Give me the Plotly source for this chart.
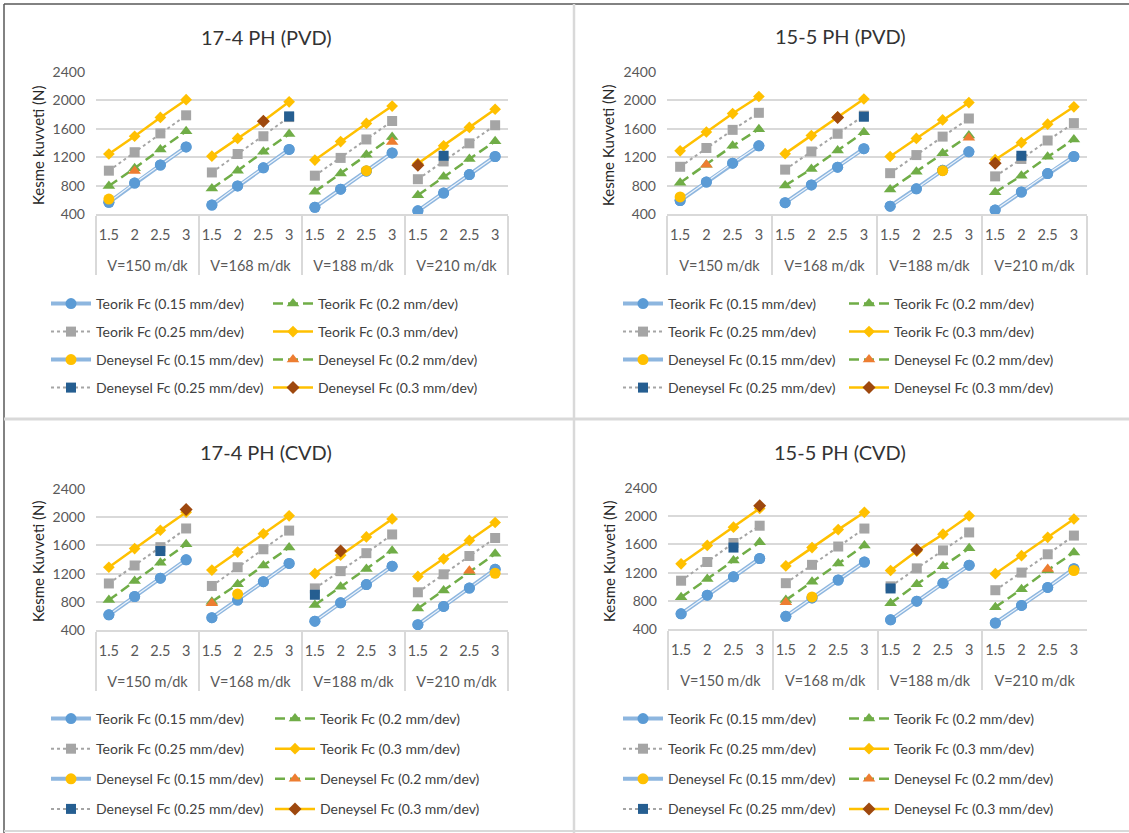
import plotly.graph_objects as go

# Category axis: cutting speed groups and depth of cut
speeds = ["V=150 m/dk", "V=168 m/dk", "V=188 m/dk", "V=210 m/dk"]
depths = ["1.5", "2", "2.5", "3"]

# 17-4 PH (PVD) cutting forces, N
pvd174_t015 = [565, 835, 1090, 1345, 525, 795, 1050, 1310, 495, 750, 1005, 1260, 445, 695, 955, 1210]
pvd174_t020 = [795, 1045, 1310, 1565, 760, 1010, 1275, 1525, 715, 970, 1235, 1485, 665, 925, 1175, 1425]
pvd174_t025 = [1010, 1270, 1535, 1790, 985, 1245, 1495, 1765, 940, 1190, 1450, 1710, 890, 1140, 1395, 1650]
pvd174_t030 = [1245, 1495, 1760, 2010, 1215, 1465, 1710, 1980, 1160, 1420, 1675, 1920, 1110, 1360, 1620, 1875]
pvd174_d015 = [610, None, None, None, None, None, None, None, None, None, 1010, None, None, None, None, None]
pvd174_d020 = [None, 1005, None, None, None, None, None, None, None, None, None, 1415, None, None, None, None]
pvd174_d025 = [None, None, None, None, None, None, None, 1775, None, None, None, None, None, 1220, None, None]
pvd174_d030 = [None, None, None, None, None, None, 1705, None, None, None, None, None, 1085, None, None, None]

# 15-5 PH (PVD)
pvd155_t015 = [590, 850, 1115, 1360, 560, 810, 1060, 1320, 510, 755, 1015, 1275, 455, 710, 970, 1210]
pvd155_t020 = [840, 1095, 1360, 1595, 800, 1035, 1295, 1550, 745, 995, 1255, 1505, 705, 940, 1205, 1450]
pvd155_t025 = [1065, 1330, 1585, 1825, 1025, 1280, 1530, 1785, 975, 1230, 1490, 1745, 930, 1175, 1435, 1680]
pvd155_t030 = [1290, 1555, 1815, 2055, 1250, 1505, 1765, 2020, 1210, 1465, 1725, 1970, 1165, 1405, 1665, 1910]
pvd155_d015 = [640, None, None, None, None, None, None, None, None, None, 1010, None, None, None, None, None]
pvd155_d020 = [None, 1095, None, None, None, None, None, None, None, None, None, 1475, None, None, None, None]
pvd155_d025 = [None, None, None, None, None, None, None, 1770, None, None, None, None, None, 1220, None, None]
pvd155_d030 = [None, None, None, None, None, None, 1760, None, None, None, None, None, 1115, None, None, None]

# 17-4 PH (CVD)
cvd174_t015 = [615, 875, 1135, 1395, 575, 825, 1085, 1345, 525, 785, 1045, 1305, 475, 735, 995, 1260]
cvd174_t020 = [825, 1095, 1355, 1615, 800, 1050, 1315, 1570, 755, 1015, 1265, 1525, 705, 960, 1220, 1480]
cvd174_t025 = [1060, 1315, 1575, 1840, 1025, 1290, 1545, 1810, 990, 1235, 1490, 1755, 935, 1190, 1450, 1705]
cvd174_t030 = [1290, 1555, 1815, 2070, 1250, 1505, 1765, 2020, 1200, 1460, 1720, 1975, 1160, 1410, 1670, 1925]
cvd174_d015 = [None, None, None, None, None, 910, None, None, None, None, None, None, None, None, None, 1205]
cvd174_d020 = [None, None, None, None, 780, None, None, None, None, None, None, None, None, None, 1240, None]
cvd174_d025 = [None, None, 1520, None, None, None, None, None, 900, None, None, None, None, None, None, None]
cvd174_d030 = [None, None, None, 2110, None, None, None, None, None, 1520, None, None, None, None, None, None]

# 15-5 PH (CVD)
cvd155_t015 = [615, 880, 1140, 1400, 580, 840, 1095, 1350, 530, 795, 1050, 1305, 485, 735, 990, 1255]
cvd155_t020 = [850, 1110, 1370, 1630, 810, 1070, 1330, 1585, 765, 1035, 1290, 1545, 710, 965, 1235, 1485]
cvd155_t025 = [1085, 1350, 1620, 1865, 1050, 1310, 1570, 1825, 1005, 1260, 1515, 1770, 950, 1200, 1460, 1725]
cvd155_t030 = [1325, 1585, 1845, 2110, 1295, 1555, 1810, 2055, 1230, 1505, 1745, 2005, 1185, 1440, 1700, 1960]
cvd155_d015 = [None, None, None, None, None, 855, None, None, None, None, None, None, None, None, None, 1230]
cvd155_d020 = [None, None, None, None, 780, None, None, None, None, None, None, None, None, None, 1250, None]
cvd155_d025 = [None, None, 1555, None, None, None, None, None, 975, None, None, None, None, None, None, None]
cvd155_d030 = [None, None, None, 2150, None, None, None, None, None, 1525, None, None, None, None, None, None]

series_names = [
    "Teorik Fc (0.15 mm/dev)", "Teorik Fc (0.2 mm/dev)",
    "Teorik Fc (0.25 mm/dev)", "Teorik Fc (0.3 mm/dev)",
    "Deneysel Fc (0.15 mm/dev)", "Deneysel Fc (0.2 mm/dev)",
    "Deneysel Fc (0.25 mm/dev)", "Deneysel Fc (0.3 mm/dev)",
]

W, H = 1129, 833
FONT = "Lato"
TXT = "#404040"
TICK = "#595959"
GRID = "#D9D9D9"

# a blank second line under each depth label leaves room above the speed row
depth_labels = [d + "<br>\u00a0" for d in depths]
xcat = [[s for s in speeds for _ in depths], [d for _ in speeds for d in depth_labels]]
n_cat = len(xcat[0])

# line style per feed rate, marker style per series
line_styles = [
    dict(color="#8DB6DF", width=4),
    dict(color="#70AD47", width=2.5, dash="10px,5px"),
    dict(color="#A5A5A5", width=2, dash="dot"),
    dict(color="#FFC000", width=2.5),
]
markers = [
    dict(symbol="circle", size=11, color="#5B9BD5"),
    dict(symbol="triangle-up", size=11, color="#70AD47"),
    dict(symbol="square", size=10, color="#A5A5A5"),
    dict(symbol="diamond", size=9, color="#FFC000"),
    dict(symbol="circle", size=11, color="#FFC000"),
    dict(symbol="triangle-up", size=11, color="#ED7D31"),
    dict(symbol="square", size=10, color="#255E91"),
    dict(symbol="diamond", size=10, color="#9E480E"),
]

panels = [
    dict(title="17-4 PH (PVD)", ytitle="Kesme kuvveti (N)",
         series=[pvd174_t015, pvd174_t020, pvd174_t025, pvd174_t030,
                 pvd174_d015, pvd174_d020, pvd174_d025, pvd174_d030],
         xd=(96, 508), yd=(72, 214), ytx=38, ytp=145, tx=266, ty=37,
         lgx=(46, 268), lgy=288, gap=6.8),
    dict(title="15-5 PH (PVD)", ytitle="Kesme Kuvveti (N)",
         series=[pvd155_t015, pvd155_t020, pvd155_t025, pvd155_t030,
                 pvd155_d015, pvd155_d020, pvd155_d025, pvd155_d030],
         xd=(667, 1087), yd=(72, 214), ytx=608, ytp=146, tx=840, ty=36,
         lgx=(618, 844), lgy=288, gap=6.8),
    dict(title="17-4 PH (CVD)", ytitle="Kesme Kuvveti (N)",
         series=[cvd174_t015, cvd174_t020, cvd174_t025, cvd174_t030,
                 cvd174_d015, cvd174_d020, cvd174_d025, cvd174_d030],
         xd=(96, 508), yd=(489, 630), ytx=38, ytp=562, tx=266, ty=452,
         lgx=(46, 270), lgy=703, gap=8.9),
    dict(title="15-5 PH (CVD)", ytitle="Kesme Kuvveti (N)",
         series=[cvd155_t015, cvd155_t020, cvd155_t025, cvd155_t030,
                 cvd155_d015, cvd155_d020, cvd155_d025, cvd155_d030],
         xd=(668, 1087), yd=(488, 629), ytx=609, ytp=562, tx=840, ty=452,
         lgx=(618, 844), lgy=703, gap=8.9),
]

fig = go.Figure()
annotations = []
layout = {}

for p, panel in enumerate(panels):
    n = "" if p == 0 else str(p + 1)
    xa, ya = "x" + n, "y" + n
    leg_left = "legend" if p == 0 else f"legend{2 * p + 1}"
    leg_right = f"legend{2 * p + 2}"

    for k, (name, vals) in enumerate(zip(series_names, panel["series"])):
        leg = leg_left if k % 2 == 0 else leg_right
        grp = f"p{p}s{k}"
        line = line_styles[k % 4]
        common = dict(xaxis=xa, yaxis=ya, legend=leg, legendgroup=grp,
                      hoverinfo="skip")
        if k >= 4:
            # measured points: isolated markers, line style kept for the key
            fig.add_trace(go.Scatter(
                x=xcat, y=vals, name=name, mode="lines+markers",
                line=line, marker=markers[k], connectgaps=False, **common))
            continue
        # theoretical curves are drawn separately within each speed group
        for g, sp in enumerate(speeds):
            xg = [[sp] * len(depth_labels), depth_labels]
            yg = vals[g * 4:(g + 1) * 4]
            fig.add_trace(go.Scatter(
                x=xg, y=yg, name=name, mode="lines+markers",
                line=line, marker=markers[k], showlegend=(g == 0), **common))
            if k == 0:
                # compound line: light core inside the blue stroke
                fig.add_trace(go.Scatter(
                    x=xg, y=yg, mode="lines", showlegend=False,
                    line=dict(color="#EEF4FB", width=1.2), **common))
                fig.add_trace(go.Scatter(
                    x=xg, y=yg, mode="markers", showlegend=False,
                    marker=markers[0], **common))

    layout["xaxis" + n] = dict(
        type="multicategory", domain=[panel["xd"][0] / W, panel["xd"][1] / W],
        anchor=ya, range=[-0.5, n_cat - 0.5], autorange=False,
        showline=True, linecolor=GRID, linewidth=1.5,
        showgrid=False, showdividers=True, dividercolor=GRID, dividerwidth=1.5,
        tickfont=dict(family=FONT, size=14.5, color=TICK),
        ticks="", ticklabelstandoff=7, tickangle=0)
    layout["yaxis" + n] = dict(
        domain=[1 - panel["yd"][1] / H, 1 - panel["yd"][0] / H],
        anchor=xa, range=[400, 2400], dtick=400, tick0=400,
        showgrid=True, gridcolor=GRID, gridwidth=1.5, zeroline=False,
        showline=False, ticks="", ticklabelstandoff=10,
        tickfont=dict(family=FONT, size=14, color=TICK))

    for leg, lx in ((leg_left, panel["lgx"][0]), (leg_right, panel["lgx"][1])):
        layout[leg] = dict(
            x=lx / W, y=1 - panel["lgy"] / H, xanchor="left", yanchor="top",
            orientation="v", bgcolor="rgba(0,0,0,0)", borderwidth=0,
            font=dict(family=FONT, size=14, color=TXT),
            tracegroupgap=panel["gap"], itemwidth=40, traceorder="grouped")

    annotations.append(dict(
        text=panel["title"], x=panel["tx"] / W, y=1 - panel["ty"] / H,
        xref="paper", yref="paper", showarrow=False,
        xanchor="center", yanchor="middle",
        font=dict(family=FONT, size=20, color="#333333")))
    annotations.append(dict(
        text=panel["ytitle"], x=panel["ytx"] / W, y=1 - panel["ytp"] / H,
        xref="paper", yref="paper", showarrow=False, textangle=-90,
        xanchor="center", yanchor="middle",
        font=dict(family=FONT, size=15, color="#262626")))

# panel frames
shapes = [
    dict(type="line", xref="paper", yref="paper", x0=4 / W, x1=4 / W, y0=0, y1=1 - 4 / H,
         line=dict(color="#595959", width=1.5)),
    dict(type="line", xref="paper", yref="paper", x0=4 / W, x1=1, y0=1 - 4 / H, y1=1 - 4 / H,
         line=dict(color="#595959", width=1.5)),
    dict(type="line", xref="paper", yref="paper", x0=574 / W, x1=574 / W, y0=0, y1=1 - 4 / H,
         line=dict(color=GRID, width=2.5)),
    dict(type="line", xref="paper", yref="paper", x0=4 / W, x1=1, y0=1 - 419 / H, y1=1 - 419 / H,
         line=dict(color=GRID, width=3)),
    dict(type="line", xref="paper", yref="paper", x0=4 / W, x1=1, y0=1 - 831 / H, y1=1 - 831 / H,
         line=dict(color=GRID, width=2)),
]

fig.update_layout(
    width=W, height=H, margin=dict(l=0, r=0, t=0, b=0, autoexpand=False),
    paper_bgcolor="white", plot_bgcolor="white",
    font=dict(family=FONT, color=TXT),
    annotations=annotations, shapes=shapes, **layout)

fig.write_html("out.html")
